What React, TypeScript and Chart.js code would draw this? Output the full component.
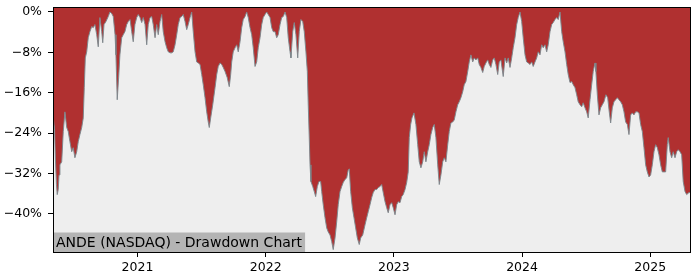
import React, { useEffect, useRef } from "react";
import { Chart, registerables } from "chart.js";

Chart.register(...registerables);

// Decimal-year dates and drawdown (%)
const dates: number[] = [
  2020.341, 2020.353, 2020.360, 2020.368, 2020.374, 2020.382, 2020.388, 2020.395, 2020.409, 2020.421,
  2020.434, 2020.448, 2020.460, 2020.473, 2020.487, 2020.499, 2020.512, 2020.526, 2020.538, 2020.551,
  2020.565, 2020.577, 2020.585, 2020.593, 2020.604, 2020.616, 2020.629, 2020.643, 2020.655, 2020.668,
  2020.682, 2020.694, 2020.707, 2020.721, 2020.729, 2020.739, 2020.754, 2020.772, 2020.785, 2020.799,
  2020.811, 2020.825, 2020.832, 2020.842, 2020.853, 2020.863, 2020.877, 2020.889, 2020.902, 2020.916,
  2020.928, 2020.942, 2020.955, 2020.967, 2020.980, 2020.994, 2021.006, 2021.020, 2021.033, 2021.045,
  2021.059, 2021.072, 2021.084, 2021.098, 2021.111, 2021.123, 2021.137, 2021.150, 2021.162, 2021.176,
  2021.189, 2021.201, 2021.215, 2021.228, 2021.240, 2021.254, 2021.267, 2021.279, 2021.293, 2021.306,
  2021.318, 2021.332, 2021.345, 2021.357, 2021.371, 2021.384, 2021.396, 2021.410, 2021.423, 2021.435,
  2021.449, 2021.462, 2021.474, 2021.488, 2021.501, 2021.513, 2021.527, 2021.540, 2021.552, 2021.560,
  2021.571, 2021.587, 2021.605, 2021.618, 2021.630, 2021.644, 2021.657, 2021.669, 2021.683, 2021.700,
  2021.716, 2021.727, 2021.735, 2021.747, 2021.761, 2021.774, 2021.786, 2021.800, 2021.813, 2021.825,
  2021.839, 2021.852, 2021.864, 2021.878, 2021.891, 2021.903, 2021.917, 2021.930, 2021.942, 2021.956,
  2021.969, 2021.981, 2021.995, 2022.008, 2022.020, 2022.034, 2022.047, 2022.059, 2022.073, 2022.086,
  2022.098, 2022.112, 2022.125, 2022.137, 2022.151, 2022.164, 2022.176, 2022.190, 2022.197, 2022.211,
  2022.223, 2022.236, 2022.250, 2022.262, 2022.275, 2022.289, 2022.301, 2022.314, 2022.325, 2022.332,
  2022.340, 2022.346, 2022.353, 2022.367, 2022.379, 2022.390, 2022.403, 2022.416, 2022.429, 2022.437,
  2022.449, 2022.463, 2022.476, 2022.488, 2022.502, 2022.515, 2022.527, 2022.541, 2022.554, 2022.566,
  2022.580, 2022.593, 2022.605, 2022.619, 2022.632, 2022.644, 2022.652, 2022.663, 2022.676, 2022.689,
  2022.702, 2022.715, 2022.730, 2022.741, 2022.757, 2022.775, 2022.788, 2022.800, 2022.814, 2022.827,
  2022.839, 2022.853, 2022.866, 2022.878, 2022.892, 2022.905, 2022.917, 2022.931, 2022.944, 2022.956,
  2022.970, 2022.983, 2022.995, 2023.009, 2023.022, 2023.034, 2023.048, 2023.061, 2023.073, 2023.087,
  2023.100, 2023.112, 2023.120, 2023.131, 2023.141, 2023.157, 2023.172, 2023.186, 2023.198, 2023.211,
  2023.225, 2023.237, 2023.250, 2023.264, 2023.276, 2023.289, 2023.303, 2023.315, 2023.328, 2023.342,
  2023.354, 2023.367, 2023.381, 2023.393, 2023.406, 2023.420, 2023.432, 2023.445, 2023.459, 2023.471,
  2023.484, 2023.498, 2023.510, 2023.523, 2023.537, 2023.549, 2023.562, 2023.576, 2023.588, 2023.601,
  2023.615, 2023.627, 2023.640, 2023.654, 2023.666, 2023.679, 2023.693, 2023.705, 2023.718, 2023.732,
  2023.744, 2023.757, 2023.771, 2023.783, 2023.796, 2023.810, 2023.822, 2023.835, 2023.853, 2023.867,
  2023.880, 2023.892, 2023.906, 2023.919, 2023.931, 2023.945, 2023.958, 2023.970, 2023.984, 2023.997,
  2024.009, 2024.023, 2024.036, 2024.048, 2024.062, 2024.075, 2024.087, 2024.101, 2024.114, 2024.126,
  2024.140, 2024.153, 2024.165, 2024.179, 2024.192, 2024.204, 2024.218, 2024.231, 2024.243, 2024.257,
  2024.270, 2024.282, 2024.296, 2024.309, 2024.321, 2024.335, 2024.348, 2024.360, 2024.374, 2024.387,
  2024.399, 2024.413, 2024.426, 2024.438, 2024.452, 2024.465, 2024.477, 2024.491, 2024.504, 2024.516,
  2024.530, 2024.543, 2024.555, 2024.569, 2024.576, 2024.587, 2024.600, 2024.613, 2024.626, 2024.639,
  2024.654, 2024.668, 2024.680, 2024.691, 2024.704, 2024.717, 2024.730, 2024.743, 2024.756, 2024.769,
  2024.782, 2024.795, 2024.808, 2024.821, 2024.834, 2024.847, 2024.860, 2024.873, 2024.886, 2024.899,
  2024.912, 2024.925, 2024.938, 2024.951, 2024.964, 2024.977, 2024.990, 2025.003, 2025.016, 2025.029,
  2025.042, 2025.055, 2025.068, 2025.081, 2025.094, 2025.107, 2025.120, 2025.133, 2025.140, 2025.154,
  2025.167, 2025.179, 2025.193, 2025.206, 2025.218, 2025.232, 2025.245, 2025.257, 2025.271, 2025.284,
  2025.302, 2025.310,
];

const drawdown: number[] = [
  -20.4, -23.3, -29.3, -34.2, -36.2, -35.2, -32.3, -30.3, -29.7, -23.7,
  -19.8, -22.9, -23.7, -25.7, -27.7, -26.9, -28.9, -27.7, -25.7, -24.3,
  -22.9, -21.0, -15.0, -9.1, -7.9, -5.1, -3.9, -2.9, -3.1, -2.5,
  -4.5, -6.9, -1.1, -3.9, -6.1, -2.5, -1.9, -0.9, 0, -0.3,
  -0.9, -4.5, -8.5, -17.4, -13.0, -8.5, -5.1, -4.5, -3.9, -2.5,
  -1.9, -1.5, -3.9, -5.9, -2.5, -1.1, -0.5, -1.1, -2.1, -1.1,
  -2.5, -6.5, -2.5, -1.1, -0.9, -2.5, -5.1, -2.5, -4.5, -1.9,
  -0.5, -3.9, -5.9, -7.1, -7.9, -8.1, -8.1, -7.9, -6.5, -4.5,
  -2.5, -1.1, -0.9, -0.5, -1.9, -3.5, -2.5, -1.1, 0, -3.9,
  -7.9, -9.9, -10.1, -10.4, -12.4, -14.4, -17.0, -19.8, -21.8, -22.9,
  -21.0, -18.4, -15.0, -12.4, -10.8, -10.1, -10.4, -11.0, -11.8, -13.0,
  -14.8, -12.4, -9.9, -7.9, -7.1, -6.5, -7.9, -5.9, -3.1, -1.5,
  -0.9, 0, -1.1, -3.1, -4.5, -7.1, -10.8, -9.9, -7.1, -5.1,
  -2.5, -1.1, -0.5, 0, -0.5, -1.1, -3.1, -3.9, -3.9, -5.1,
  -4.5, -2.5, -1.1, -0.9, 0, -1.1, -5.1, -7.9, -9.1, -3.9,
  -2.1, -4.5, -9.1, -3.9, -1.5, -1.9, -3.9, -7.9, -11.8, -18.4,
  -24.9, -30.3, -33.6, -34.6, -35.6, -36.6, -34.6, -33.6, -33.6, -35.6,
  -38.2, -40.8, -42.8, -43.6, -44.2, -45.5, -47.1, -44.8, -41.6, -38.2,
  -35.6, -34.6, -33.8, -33.2, -32.9, -31.3, -31.1, -35.6, -38.8, -40.8,
  -42.8, -44.8, -46.1, -44.8, -44.2, -42.2, -40.8, -39.6, -38.2, -36.8,
  -35.8, -35.2, -35.2, -34.8, -34.6, -34.2, -35.8, -37.6, -38.8, -39.8,
  -38.2, -37.8, -38.8, -40.2, -38.2, -37.6, -37.8, -36.6, -36.2, -35.2,
  -33.8, -31.7, -24.9, -22.3, -21.0, -20.0, -22.3, -26.3, -29.7, -30.9,
  -29.7, -27.7, -29.7, -27.7, -26.3, -24.3, -22.9, -22.3, -24.9, -30.3,
  -34.2, -32.3, -29.7, -28.9, -29.7, -26.3, -23.7, -22.0, -21.8, -21.4,
  -19.8, -18.4, -17.8, -17.0, -15.8, -14.4, -13.8, -11.8, -9.9, -8.5,
  -9.9, -9.1, -9.5, -9.1, -10.4, -11.0, -12.0, -10.8, -10.1, -9.5,
  -10.4, -11.0, -9.5, -9.1, -10.4, -12.4, -9.9, -9.5, -12.8, -9.1,
  -10.1, -9.1, -11.0, -9.1, -7.1, -5.1, -2.5, -1.1, 0, -1.9,
  -5.1, -8.5, -9.9, -10.1, -10.4, -9.9, -10.8, -9.9, -9.1, -7.9,
  -8.5, -6.5, -7.1, -6.5, -7.9, -6.5, -3.9, -2.5, -2.1, -1.5,
  -1.1, -1.5, 0, -3.9, -5.9, -7.9, -10.4, -12.4, -14.0, -13.8,
  -14.4, -15.0, -16.4, -17.8, -18.4, -18.8, -18.0, -19.0, -19.8, -21.0,
  -17.4, -14.4, -11.8, -10.1, -11.8, -16.4, -20.4, -19.0, -18.4, -17.8,
  -16.4, -17.0, -19.8, -22.0, -19.0, -17.8, -17.4, -17.0, -17.4, -17.8,
  -18.4, -19.8, -21.8, -22.3, -24.3, -20.4, -20.0, -20.4, -19.8, -19.8,
  -20.0, -22.3, -23.7, -26.9, -30.3, -31.7, -32.7, -32.3, -30.3, -27.7,
  -26.3, -26.9, -28.3, -30.3, -31.7, -31.7, -31.7, -26.3, -24.9, -27.7,
  -28.9, -27.7, -28.9, -27.7, -27.3, -27.7, -28.3, -33.6, -35.6, -36.2,
  -35.8, -35.8,
];

const xTickYears: number[] = [2021, 2022, 2023, 2024, 2025];
const yTickValues: number[] = [0, -8, -16, -24, -32, -40];
const xMin = 2020.341;
const xMax = 2025.31;
const yMin = -47.58;
const yMax = 0.99;
const chartLabel = "ANDE (NASDAQ) - Drawdown Chart";

const FONT = '"DejaVu Sans", "Liberation Sans", sans-serif';

const framePlugin = {
  id: "frameAndLabel",
  beforeDraw(chart: any) {
    const { ctx, chartArea: a } = chart;
    ctx.save();
    ctx.fillStyle = "#eeeeee";
    ctx.fillRect(a.left, a.top, a.right - a.left, a.bottom - a.top);
    ctx.restore();
  },
  afterDraw(chart: any) {
    const { ctx, chartArea: a } = chart;
    ctx.save();
    ctx.font = `14px ${FONT}`;
    const w = ctx.measureText(chartLabel).width;
    const h = 19.5;
    ctx.fillStyle = "#b4b4b4";
    ctx.fillRect(a.left, a.bottom - h, w + 6, h);
    ctx.fillStyle = "#000000";
    ctx.textBaseline = "alphabetic";
    ctx.textAlign = "left";
    ctx.fillText(chartLabel, a.left + 3, a.bottom - 5.5);
    ctx.strokeStyle = "#000000";
    ctx.lineWidth = 1;
    ctx.strokeRect(a.left + 0.5, a.top + 0.5, a.right - a.left, a.bottom - a.top);
    ctx.restore();
  },
};

export default function App() {
  const canvasRef = useRef<HTMLCanvasElement | null>(null);

  useEffect(() => {
    if (!canvasRef.current) return;
    const points = dates.map((d, i) => ({ x: d, y: drawdown[i] }));
    const chart = new Chart(canvasRef.current, {
      type: "line",
      data: {
        datasets: [
          {
            data: points,
            borderColor: "rgba(125,135,140,0.95)",
            borderWidth: 1,
            backgroundColor: "#b03030",
            fill: "end",
            pointRadius: 0,
            tension: 0,
          },
        ],
      },
      options: {
        animation: false,
        responsive: false,
        maintainAspectRatio: false,
        devicePixelRatio: 1,
        layout: { padding: { top: 7, right: 10, left: 0, bottom: 0 } },
        plugins: {
          legend: { display: false },
          tooltip: { enabled: false },
          title: { display: false },
        },
        scales: {
          x: {
            type: "linear",
            min: xMin,
            max: xMax,
            afterBuildTicks: (scale: any) => {
              scale.ticks = xTickYears.map((v) => ({ value: v }));
            },
            afterFit: (scale: any) => {
              scale.height = 28;
              scale.paddingLeft = 0;
              scale.paddingRight = 0;
            },
            ticks: {
              callback: (v: any) => String(v),
              color: "#000000",
              font: { family: FONT, size: 12.5 },
              padding: 3,
              maxRotation: 0,
              autoSkip: false,
            },
            grid: {
              drawOnChartArea: false,
              drawTicks: true,
              tickLength: 5,
              tickColor: "#000000",
              tickWidth: 1,
            },
            border: { display: false },
          },
          y: {
            type: "linear",
            min: yMin,
            max: yMax,
            afterBuildTicks: (scale: any) => {
              scale.ticks = yTickValues.map((v) => ({ value: v }));
            },
            afterFit: (scale: any) => {
              scale.width = 53;
              scale.paddingTop = 0;
              scale.paddingBottom = 0;
            },
            ticks: {
              callback: (v: any) => (v < 0 ? "\u2212" + Math.abs(v) : String(v)) + "%",
              color: "#000000",
              font: { family: FONT, size: 12.5 },
              padding: 6,
              autoSkip: false,
            },
            grid: {
              drawOnChartArea: false,
              drawTicks: true,
              tickLength: 5,
              tickColor: "#000000",
              tickWidth: 1,
            },
            border: { display: false },
          },
        },
      },
      plugins: [framePlugin],
    });
    return () => chart.destroy();
  }, []);

  return (
    <div style={{ position: "fixed", left: 0, top: 0, width: 700, height: 280, background: "#ffffff" }}>
      <canvas ref={canvasRef} width={700} height={280} style={{ width: 700, height: 280, display: "block" }} />
    </div>
  );
}
